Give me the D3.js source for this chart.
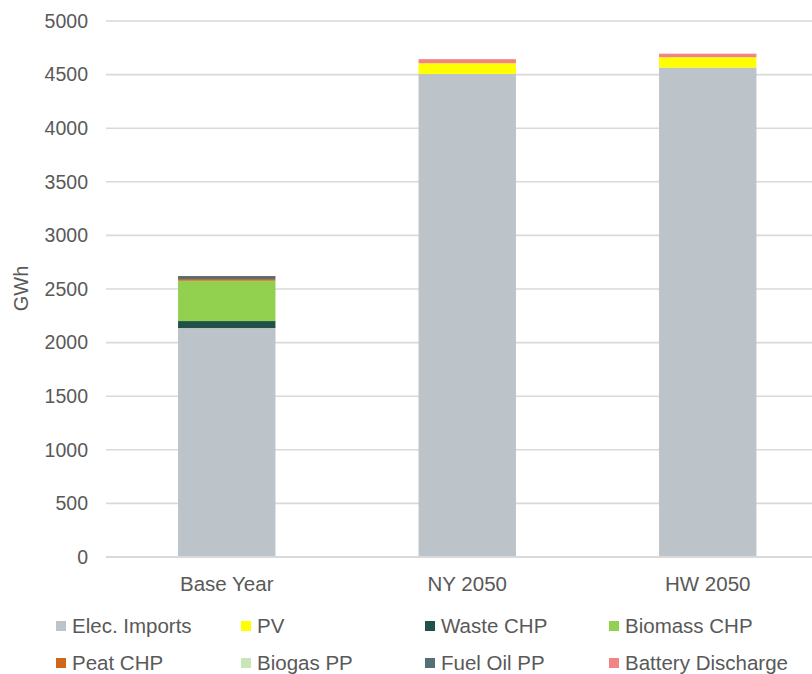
<!DOCTYPE html>
<html>
<head>
<meta charset="utf-8">
<script src="https://cdn.jsdelivr.net/npm/d3@7"></script>
<style>
  html, body { margin: 0; padding: 0; background: #fff; }
  svg { display: block; font-family: "Liberation Sans", Arial, sans-serif; }
</style>
</head>
<body>
<svg id="chart" width="812" height="674"></svg>
<script>
// ---- data ----
const categories = ["Base Year", "NY 2050", "HW 2050"];
const seriesNames = ["Elec. Imports", "PV", "Waste CHP", "Biomass CHP", "Peat CHP", "Biogas PP", "Fuel Oil PP", "Battery Discharge"];
const elecImports = [2136, 4506, 4565];
const pv = [0, 100, 97];
const wasteCHP = [65, 0, 0];
const biomassCHP = [376, 0, 0];
const peatCHP = [16, 0, 0];
const biogasPP = [0, 0, 0];
const fuelOilPP = [28, 0, 0];
const batteryDischarge = [0, 38, 33];
const yTicks = [0, 500, 1000, 1500, 2000, 2500, 3000, 3500, 4000, 4500, 5000];
const colors = ["#bcc4ca", "#ffff00", "#1f5149", "#92d050", "#d0651c", "#c9e6b8", "#566e77", "#f28584"];

const seriesValues = [elecImports, pv, wasteCHP, biomassCHP, peatCHP, biogasPP, fuelOilPP, batteryDischarge];
const table = categories.map((c, i) => {
  const row = { cat: c };
  seriesNames.forEach((s, j) => row[s] = seriesValues[j][i]);
  return row;
});

const svg = d3.select("#chart");
const y = d3.scaleLinear().domain([0, 5000]).range([557, 21]);
const x = d3.scaleBand().domain(categories).range([106.5, 828]).paddingInner(0.595).paddingOuter(0.2975);

// gridlines
svg.append("g").selectAll("line").data(yTicks).join("line")
  .attr("x1", 106).attr("x2", 812)
  .attr("y1", d => y(d)).attr("y2", d => y(d))
  .attr("stroke", "#d9d9d9").attr("stroke-width", 1.6);

// y tick labels
svg.append("g").selectAll("text").data(yTicks).join("text")
  .attr("x", 88).attr("y", d => y(d))
  .attr("dy", "0.35em").attr("text-anchor", "end")
  .attr("font-size", 19.5).attr("fill", "#595959")
  .text(d => d);

// stacked bars
const stack = d3.stack().keys(seriesNames)(table);
svg.append("g").selectAll("g").data(stack).join("g")
  .attr("fill", (d, i) => colors[i])
  .selectAll("rect").data(d => d).join("rect")
  .attr("x", d => x(d.data.cat))
  .attr("width", x.bandwidth())
  .attr("y", d => y(d[1]))
  .attr("height", d => Math.max(0, y(d[0]) - y(d[1])));

// baseline
svg.append("line").attr("x1", 106).attr("x2", 812).attr("y1", y(0)).attr("y2", y(0))
  .attr("stroke", "#d9d9d9").attr("stroke-width", 2);

// x labels
svg.append("g").selectAll("text").data(categories).join("text")
  .attr("x", d => x(d) + x.bandwidth() / 2).attr("y", 584)
  .attr("dy", "0.35em").attr("text-anchor", "middle")
  .attr("font-size", 20.5).attr("fill", "#595959")
  .text(d => d);

// y axis title
svg.append("text")
  .attr("transform", "translate(21,288.5) rotate(-90)")
  .attr("dy", "0.35em").attr("text-anchor", "middle")
  .attr("font-size", 20).attr("fill", "#595959")
  .text("GWh");

// legend
const colX = [56, 241, 425, 609];
const rowY = [626, 663];
const lg = svg.append("g").selectAll("g").data(seriesNames).join("g")
  .attr("transform", (d, i) => `translate(${colX[i % 4]},${rowY[Math.floor(i / 4)]})`);
lg.append("rect").attr("x", 0).attr("y", -5).attr("width", 10).attr("height", 10)
  .attr("fill", (d, i) => colors[i]);
lg.append("text").attr("x", 16).attr("y", 0).attr("dy", "0.35em")
  .attr("font-size", 20.5).attr("fill", "#595959")
  .text(d => d);
</script>
</body>
</html>
